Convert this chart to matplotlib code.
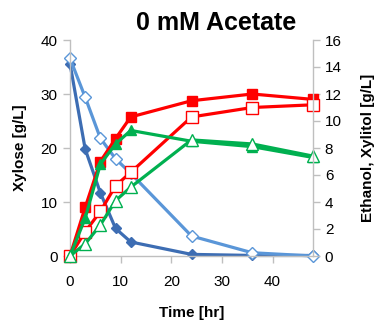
import matplotlib.pyplot as plt

# sampling times [hr]
time = [0, 3, 6, 9, 12, 24, 36, 48]

# left axis: xylose [g/L]
xylose_a = [35.6, 19.8, 11.7, 5.1, 2.6, 0.3, 0.1, 0.1]
xylose_b = [36.6, 29.4, 21.8, 18.0, 15.3, 3.7, 0.6, 0.0]

# right axis: ethanol / xylitol [g/L]
ethanol_a = [0.0, 3.6, 7.0, 8.7, 10.3, 11.5, 12.0, 11.6]
xylitol_a = [0.0, 1.8, 3.3, 5.2, 6.2, 10.3, 11.0, 11.2]
ethanol_b = [0.0, 2.8, 6.8, 8.3, 9.3, 8.5, 8.1, 7.3]
xylitol_b = [0.0, 0.9, 2.3, 4.1, 5.1, 8.6, 8.3, 7.4]

x_ticks = [0, 10, 20, 30, 40]
left_ticks = [0, 10, 20, 30, 40]
right_ticks = [0, 2, 4, 6, 8, 10, 12, 14, 16]

dark_blue = '#3d6db3'
light_blue = '#5a96d8'
red = '#ff0000'
green = '#00b050'
grey = '#bfbfbf'

plt.rcParams['font.family'] = ['Liberation Sans', 'DejaVu Sans']

fig = plt.figure(figsize=(3.77, 3.25), dpi=100)
ax = fig.add_axes([70 / 377, 1 - 256 / 325, 243 / 377, 216 / 325])
ax2 = ax.twinx()

lw = 2.3
ax.plot(time, xylose_a, color=dark_blue, lw=lw, marker='D', ms=5,
        mfc=dark_blue, mec=dark_blue, clip_on=False)
ax.plot(time, xylose_b, color=light_blue, lw=lw, marker='D', ms=6,
        mfc='white', mec=light_blue, mew=1, clip_on=False)

ax2.plot(time, ethanol_a, color=red, lw=lw, marker='s', ms=7,
         mfc=red, mec=red, clip_on=False)
ax2.plot(time, xylitol_a, color=red, lw=lw, marker='s', ms=8,
         mfc='white', mec=red, mew=1, clip_on=False)
ax2.plot(time, ethanol_b, color=green, lw=lw, marker='^', ms=7,
         mfc=green, mec=green, clip_on=False)
ax2.plot(time, xylitol_b, color=green, lw=lw, marker='^', ms=8,
         mfc='white', mec=green, mew=1, clip_on=False)

ax.set_xlim(0, 48)
ax.set_ylim(0, 40)
ax2.set_ylim(0, 16)
ax.set_xticks(x_ticks)
ax.set_yticks(left_ticks)
ax2.set_yticks(right_ticks)

for a in (ax, ax2):
    a.spines['top'].set_visible(False)
    for s in ('left', 'right', 'bottom'):
        a.spines[s].set_color(grey)
        a.spines[s].set_linewidth(1)
    a.tick_params(colors=grey, labelcolor='black', labelsize=11,
                  length=5, width=1)
ax.spines['right'].set_visible(False)
ax2.spines['left'].set_visible(False)
ax2.spines['bottom'].set_visible(False)
ax.tick_params(axis='x', pad=9)
ax.tick_params(axis='y', pad=4)

ax.set_xlabel('Time [hr]', fontsize=11, fontweight='bold', labelpad=12)
ax.set_ylabel('Xylose [g/L]', fontsize=11, fontweight='bold', labelpad=10)
ax2.set_ylabel('Ethanol, Xylitol [g/L]', fontsize=11, fontweight='bold',
               labelpad=14)

fig.text(216 / 377, 1 - 23 / 325, '0 mM Acetate', fontsize=18,
         fontweight='bold', ha='center', va='center')

fig.savefig('out.png', dpi=100)
